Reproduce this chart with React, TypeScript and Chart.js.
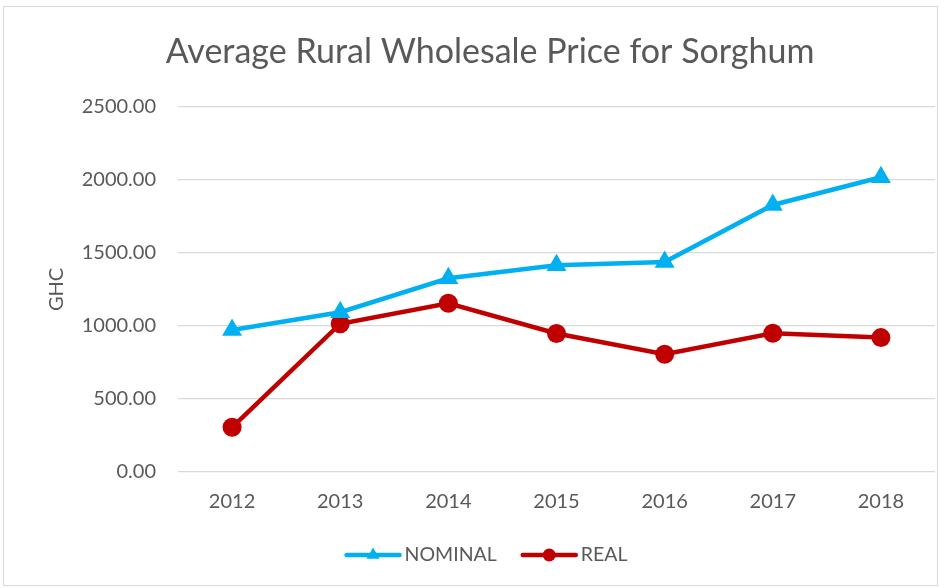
import React, { useEffect, useRef } from "react";
import { Chart, registerables } from "chart.js";

Chart.register(...registerables);

const years = ["2012", "2013", "2014", "2015", "2016", "2017", "2018"];
const nominal = [972, 1094, 1326, 1415, 1438, 1828, 2018];
const real = [306, 1015, 1155, 948, 806, 950, 920];
const yTicks = [0, 500, 1000, 1500, 2000, 2500];

const FONT = "Lato, 'Open Sans', sans-serif";
const TEXT = "#595959";
const BLUE = "#00b0f0";
const RED = "#c00000";

const legendPlugin = {
  id: "lineLegend",
  afterDraw(chart: any) {
    const ctx = chart.ctx;
    const ds = chart.data.datasets;
    ctx.save();
    ctx.font = `19.5px ${FONT}`;
    const lineLen = 53;
    const gap = 5;
    const itemGap = 26;
    const widths = ds.map((d: any) => lineLen + gap + ctx.measureText(d.label).width);
    const total = widths.reduce((a: number, b: number) => a + b, 0) + itemGap * (ds.length - 1);
    let x = 487 - total / 2;
    const y = 555;
    ds.forEach((d: any, i: number) => {
      ctx.strokeStyle = d.borderColor;
      ctx.lineWidth = 4.5;
      ctx.lineCap = "round";
      ctx.beginPath();
      ctx.moveTo(x, y);
      ctx.lineTo(x + lineLen, y);
      ctx.stroke();
      ctx.fillStyle = d.borderColor;
      const cx = x + lineLen / 2;
      if (d.pointStyle === "triangle") {
        const r = 7.5;
        ctx.beginPath();
        ctx.moveTo(cx, y - r);
        ctx.lineTo(cx + r * 0.866, y + r * 0.5);
        ctx.lineTo(cx - r * 0.866, y + r * 0.5);
        ctx.closePath();
        ctx.fill();
      } else {
        ctx.beginPath();
        ctx.arc(cx, y, 6.5, 0, Math.PI * 2);
        ctx.fill();
      }
      ctx.fillStyle = TEXT;
      ctx.textBaseline = "middle";
      ctx.textAlign = "left";
      ctx.fillText(d.label, x + lineLen + gap, y);
      x += widths[i] + itemGap;
    });
    ctx.restore();
  },
};

export default function App() {
  const ref = useRef<HTMLCanvasElement>(null);
  useEffect(() => {
    document.body.style.margin = "0";
    const chart = new Chart(ref.current!, {
      type: "line",
      data: {
        labels: years,
        datasets: [
          {
            label: "NOMINAL",
            data: nominal,
            borderColor: BLUE,
            backgroundColor: BLUE,
            borderWidth: 4.5,
            pointStyle: "triangle",
            pointRadius: 11.5,
            pointHoverRadius: 11.5,
            pointBorderWidth: 0,
            tension: 0,
          },
          {
            label: "REAL",
            data: real,
            borderColor: RED,
            backgroundColor: RED,
            borderWidth: 4.5,
            pointStyle: "circle",
            pointRadius: 9.5,
            pointHoverRadius: 9.5,
            pointBorderWidth: 0,
            tension: 0,
          },
        ],
      },
      options: {
        animation: false,
        responsive: false,
        layout: { padding: { left: 45, right: 15, top: 0, bottom: 76 } },
        plugins: {
          legend: { display: false },
          tooltip: { enabled: false },
          title: {
            display: true,
            text: "Average Rural Wholesale Price for Sorghum",
            color: TEXT,
            font: { family: FONT, size: 34, weight: "normal", lineHeight: 1.2 },
            padding: { top: 32, bottom: 34 },
          },
        },
        scales: {
          x: {
            offset: true,
            grid: { display: false, drawTicks: false },
            border: { display: false },
            ticks: { color: TEXT, font: { family: FONT, size: 20 }, padding: 18 },
            afterFit: (s: any) => {
              s.height = 40;
            },
          },
          y: {
            min: 0,
            max: 2500,
            afterBuildTicks: (s: any) => {
              s.ticks = yTicks.map((v) => ({ value: v }));
            },
            grid: { color: "#d9d9d9", lineWidth: 1.3, drawTicks: false },
            border: { display: false },
            ticks: {
              color: TEXT,
              font: { family: FONT, size: 20 },
              padding: 22,
              callback: (v: any) => Number(v).toFixed(2),
            },
            title: {
              display: true,
              text: "GHC",
              color: TEXT,
              font: { family: FONT, size: 20 },
              padding: 0,
            },
            afterFit: (s: any) => {
              s.width = 133;
            },
          },
        },
      },
      plugins: [legendPlugin],
    });
    return () => chart.destroy();
  }, []);
  return (
    <div style={{ position: "relative", width: 950, height: 588, background: "#fff" }}>
      <div
        style={{
          position: "absolute",
          left: 3,
          top: 6,
          width: 935,
          height: 580,
          border: "1.5px solid #d9d9d9",
          boxSizing: "border-box",
        }}
      />
      <canvas ref={ref} width={950} height={588} style={{ position: "absolute", left: 0, top: 0 }} />
    </div>
  );
}
